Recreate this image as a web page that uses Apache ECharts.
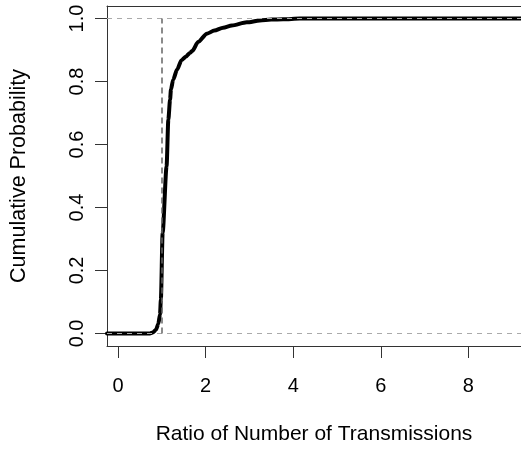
<!DOCTYPE html>
<html>
<head>
<meta charset="utf-8">
<script src="https://cdn.jsdelivr.net/npm/echarts@6/dist/echarts.min.js"></script>
<style>html,body{margin:0;padding:0;background:#fff}#c{width:521px;height:450px}</style>
</head>
<body>
<div id="c"></div>
<script>
// ECDF of ratio of number of transmissions
var ratioX = [-0.25, 0.73, 0.80, 0.87, 0.92, 0.96, 0.98, 1.02, 1.11, 1.15, 1.19, 1.21, 1.26, 1.35, 1.45, 1.55, 1.64, 1.70, 1.83, 2.03, 2.20, 2.40, 2.60, 2.94, 3.24, 3.50, 3.77, 4.15, 9.20];
var cumProb = [0, 0, 0.003, 0.012, 0.03, 0.06, 0.108, 0.32, 0.531, 0.679, 0.743, 0.775, 0.806, 0.838, 0.868, 0.879, 0.891, 0.898, 0.926, 0.952, 0.962, 0.971, 0.978, 0.988, 0.994, 0.997, 0.998, 1.0, 1.0];
var xTicks = [0, 2, 4, 6, 8];
var yTicks = [0, 0.2, 0.4, 0.6, 0.8, 1.0];
var hRefs = [0, 1];
var vRef = 1;

var font = '"Liberation Sans", Arial, Helvetica, sans-serif';
var chart = echarts.init(document.getElementById('c'), null, {renderer: 'canvas'});
var pts = ratioX.map(function (x, i) { return [x, cumProb[i]]; });
var axisLineStyle = {color: '#333', width: 1};

chart.setOption({
  animation: false,
  backgroundColor: '#fff',
  grid: {left: 107, top: 6, right: 0, bottom: 103, show: false},
  xAxis: [{
    type: 'value', min: -0.25, max: 9.20, position: 'bottom',
    name: 'Ratio of Number of Transmissions', nameLocation: 'middle', nameGap: 78,
    nameTextStyle: {fontFamily: font, fontSize: 21, color: '#000'},
    axisLine: {show: true, onZero: false, lineStyle: axisLineStyle},
    axisTick: {show: true, inside: false, length: 12, customValues: xTicks, lineStyle: axisLineStyle},
    axisLabel: {customValues: xTicks, fontFamily: font, fontSize: 20, color: '#000', margin: 30, formatter: function (v) { return String(v); }},
    splitLine: {show: false}
  }, {
    type: 'value', min: -0.25, max: 9.20, position: 'top',
    axisLine: {show: true, onZero: false, lineStyle: axisLineStyle},
    axisTick: {show: false}, axisLabel: {show: false}, splitLine: {show: false}
  }],
  yAxis: {
    type: 'value', min: -0.04, max: 1.04,
    name: 'Cumulative Probability', nameLocation: 'middle', nameGap: 77, nameRotate: 90,
    nameTextStyle: {fontFamily: font, fontSize: 21.5, color: '#000'},
    axisLine: {show: true, onZero: false, lineStyle: axisLineStyle},
    axisTick: {show: true, inside: false, length: 12, customValues: yTicks, lineStyle: axisLineStyle},
    axisLabel: {customValues: yTicks, rotate: 90, fontFamily: font, fontSize: 20, color: '#000', margin: 20, formatter: function (v) { return v.toFixed(1); }},
    splitLine: {show: false}
  },
  series: [
    {
      type: 'line', data: pts, showSymbol: false, symbol: 'none', smooth: 0.25, smoothMonotone: 'x', z: 2,
      lineStyle: {color: '#000', width: 4, join: 'round', cap: 'round'}
    },
    {
      type: 'line', data: [], z: 5, silent: true,
      markLine: {
        silent: true, symbol: ['none', 'none'], label: {show: false},
        lineStyle: {color: '#aaa', type: [5, 5], width: 1},
        data: hRefs.map(function (v) { return {yAxis: v}; }).concat([
          [{coord: [vRef, 0], lineStyle: {color: '#666', width: 1.5, type: [6, 4]}}, {coord: [vRef, 1]}]
        ])
      }
    }
  ]
});
</script>
</body>
</html>
